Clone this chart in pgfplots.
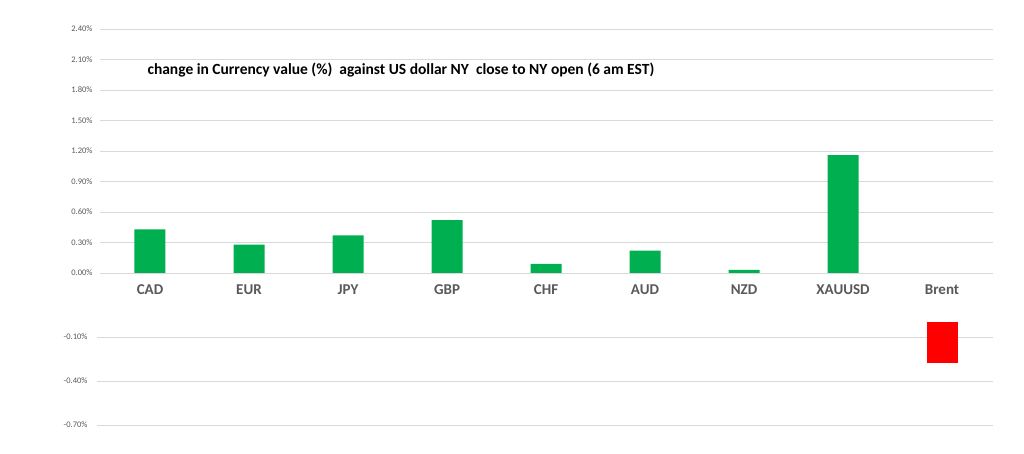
\documentclass[border=0pt]{standalone}
\usepackage{pgfplots}
\pgfplotsset{compat=1.18}
\usepackage{fontspec}
\setmainfont{Carlito}
\definecolor{bargreen}{HTML}{00B050}
\definecolor{barred}{HTML}{FF0000}
\definecolor{txtgray}{HTML}{595959}
\definecolor{gridgray}{HTML}{D9D9D9}
\begin{document}
\begin{tikzpicture}[x=1pt,y=1pt]
\path[use as bounding box, fill=white] (0,0) rectangle (1024,454);
\begin{axis}[
  scale only axis, width=893pt, height=244pt,
  at={(100pt,181pt)}, anchor=south west,
  xmin=-0.505, xmax=8.515, ymin=0, ymax=2.4,
  axis line style={draw=none},
  ytick={0,0.3,0.6,0.9,1.2,1.5,1.8,2.1,2.4},
  yticklabels={0.00\%,0.30\%,0.60\%,0.90\%,1.20\%,1.50\%,1.80\%,2.10\%,2.40\%},
  xtick={0,...,8},
  xticklabels={CAD,EUR,JPY,GBP,CHF,AUD,NZD,XAUUSD,Brent},
  major tick length=0pt,
  ymajorgrids, grid style={gridgray, line width=0.8pt},
  yticklabel style={font=\fontsize{8.5}{9}\selectfont, text=txtgray, xshift=-4pt},
  xticklabel style={font=\fontsize{15}{17}\selectfont\bfseries, text=txtgray, yshift=-8pt},
  clip=false,
]
\addplot[ybar, bar width=31pt, fill=bargreen, draw=none] coordinates {
  (0,0.43) (1,0.28) (2,0.37) (3,0.52) (4,0.09) (5,0.22) (6,0.03) (7,1.16)
};
\end{axis}
\begin{axis}[
  scale only axis, width=896pt, height=102.7pt,
  at={(97pt,29pt)}, anchor=south west,
  xmin=-0.535, xmax=8.515, ymin=-0.7, ymax=0,
  axis line style={draw=none},
  ytick={-0.7,-0.4,-0.1},
  yticklabels={-0.70\%,-0.40\%,-0.10\%},
  xtick=\empty,
  major tick length=0pt,
  ymajorgrids, grid style={gridgray, line width=0.8pt},
  yticklabel style={font=\fontsize{8.5}{9}\selectfont, text=txtgray, xshift=-6pt},
  clip=false,
]
\addplot[ybar, bar width=31pt, fill=barred, draw=none] coordinates {(8,-0.28)};
\end{axis}
\node[font=\fontsize{15.5}{17}\selectfont\bfseries, anchor=west] at (144,384) {change in Currency value (\%)\ \ against US dollar NY\ \ close to NY open (6 am EST)};
\end{tikzpicture}
\end{document}
